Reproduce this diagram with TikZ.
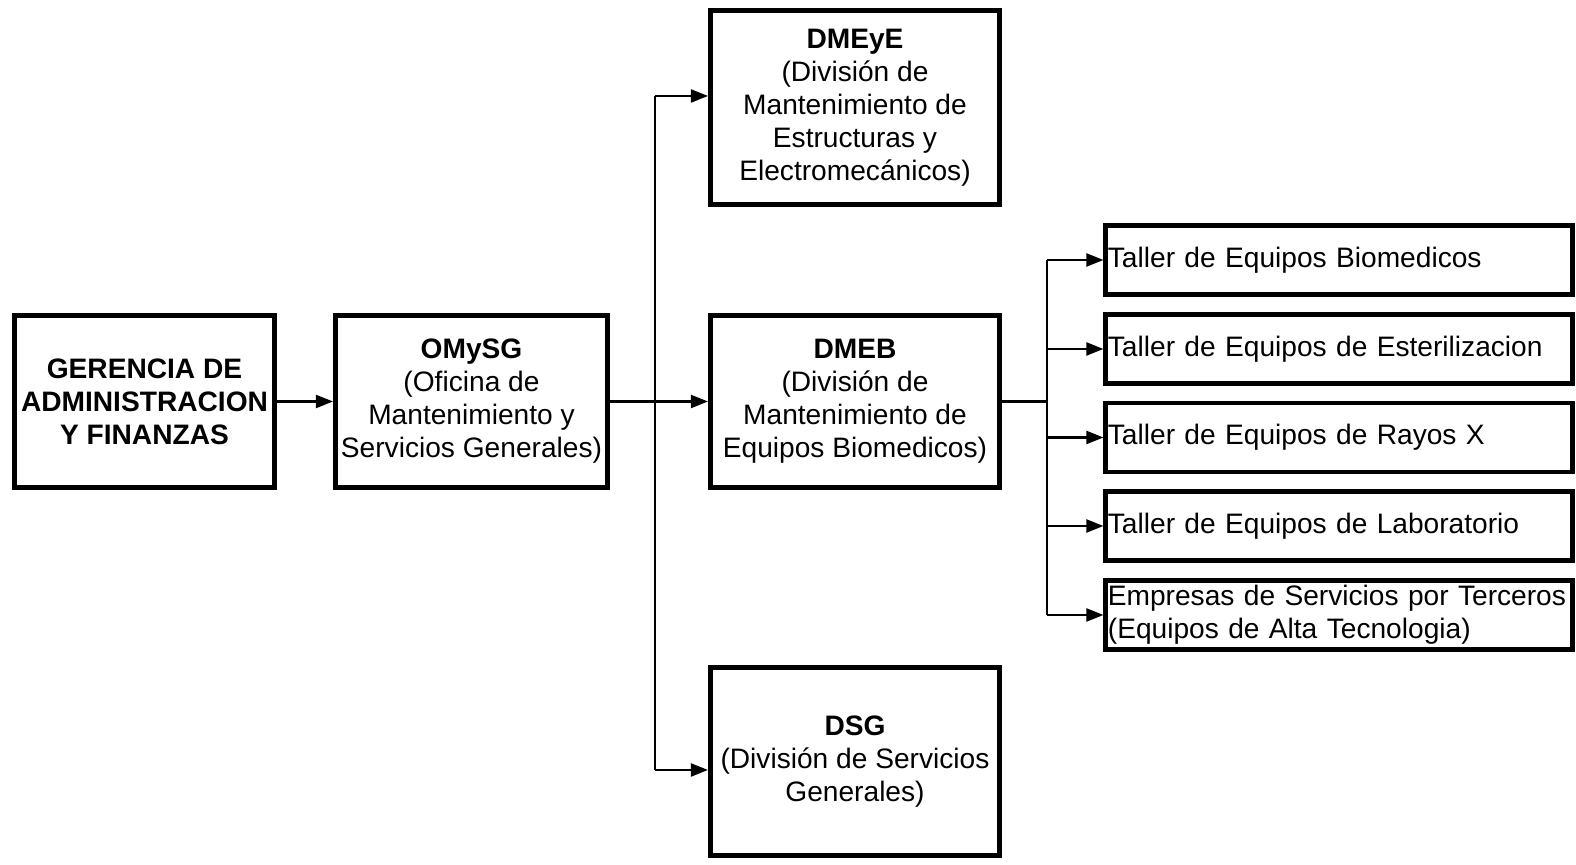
\documentclass[tikz,border=0pt]{standalone}
\usepackage{fontspec}
\setmainfont{Liberation Sans}
\usepackage{tikz}
\usetikzlibrary{arrows.meta, positioning}

\tikzset{
  unidad/.style={draw, line width=1.4pt, align=center, inner sep=0pt,
    font=\fontsize{8}{9.4}\selectfont},
  taller/.style={draw, line width=1.4pt, align=left, inner xsep=0pt,
    inner ysep=0pt, text width=4.62cm, minimum width=4.66cm, minimum height=0.69cm,
    font=\fontsize{8}{9.4}\selectfont},
  linea/.style={line width=0.6pt},
  flecha/.style={linea, -{Triangle[length=0.17cm, width=0.13cm]}}
}

\begin{document}
\hyphenpenalty=10000\relax
\begin{tikzpicture}[x=0.01cm, y=-0.01cm]
  \useasboundingbox (0,0) rectangle (1576,865);

  % unidades principales
  \node[unidad, minimum width=2.60cm, minimum height=1.72cm] (ger) at (144.5,401.5)
    {\textbf{GERENCIA DE}\\\textbf{ADMINISTRACION}\\\textbf{Y FINANZAS}};
  \node[unidad, minimum width=2.72cm, minimum height=1.72cm] (omysg) at (471.5,401.5)
    {\textbf{OMySG}\\(Oficina de\\Mantenimiento y\\Servicios Generales)};
  \node[unidad, minimum width=2.89cm, minimum height=1.94cm] (dmeye) at (855,107.5)
    {\textbf{DMEyE}\\(División de\\Mantenimiento de\\Estructuras y\\Electromecánicos)};
  \node[unidad, minimum width=2.89cm, minimum height=1.72cm] (dmeb) at (855,401.5)
    {\textbf{DMEB}\\(División de\\Mantenimiento de\\Equipos Biomedicos)};
  \node[unidad, minimum width=2.89cm, minimum height=1.88cm] (dsg) at (855,761.5)
    {\textbf{DSG}\\(División de Servicios\\Generales)};

  % talleres
  \node[taller] (t1) at (1339,260) {Taller de Equipos Biomedicos};
  \node[taller] (t2) at (1339,349) {Taller de Equipos de Esterilizacion};
  \node[taller] (t3) at (1339,437.5) {Taller de Equipos de Rayos X};
  \node[taller] (t4) at (1339,526) {Taller de Equipos de Laboratorio};
  \node[taller] (t5) at (1339,615) {Empresas de Servicios por Terceros\\(Equipos de Alta Tecnologia)};

  % conectores
  \draw[flecha] (ger.east) -- (omysg.west);
  \draw[flecha] (omysg.east) -- (dmeb.west);
  \coordinate (jsup) at (655,96);
  \coordinate (jinf) at (655,770);
  \draw[linea] (jsup) -- (jinf);
  \draw[flecha] (jsup) -- (jsup -| dmeye.west);
  \draw[flecha] (jinf) -- (jinf -| dsg.west);

  \coordinate (jt) at (1047,401.5);
  \draw[linea] (dmeb.east) -- (jt);
  \draw[linea] (jt |- t1.west) -- (jt |- t5.west);
  \foreach \t in {t1,t2,t3,t4,t5}
    \draw[flecha] (jt |- \t.west) -- (\t.west);
\end{tikzpicture}
\end{document}
